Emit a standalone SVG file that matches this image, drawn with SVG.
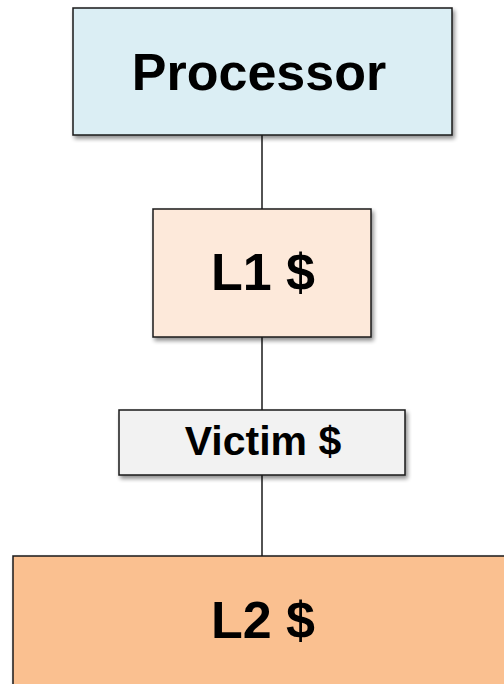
<svg xmlns="http://www.w3.org/2000/svg" width="504" height="684" viewBox="0 0 504 684">
<defs>
<filter id="sh" x="-10%" y="-10%" width="130%" height="130%">
<feGaussianBlur in="SourceAlpha" stdDeviation="2"/>
<feOffset dx="2" dy="3" result="b"/>
<feComponentTransfer><feFuncA type="linear" slope="0.45"/></feComponentTransfer>
<feMerge><feMergeNode/><feMergeNode in="SourceGraphic"/></feMerge>
</filter>
</defs>
<style>
.box{stroke:#1a1a1a;stroke-width:1.5;filter:url(#sh)}
.lbl{font-family:"Liberation Sans",Arial,sans-serif;font-weight:bold;fill:#000;text-anchor:middle}
.conn{stroke:#1a1a1a;stroke-width:1.5;fill:none}
</style>
<rect width="504" height="684" fill="#fff"/>
<g id="connectors">
<line class="conn" x1="262" y1="135" x2="262" y2="209"/>
<line class="conn" x1="262" y1="337" x2="262" y2="410"/>
<line class="conn" x1="262" y1="475" x2="262" y2="556"/>
</g>
<g id="processor">
<rect class="box" x="73" y="8" width="379" height="127" fill="#DBEEF4"/>
<text class="lbl" x="259" y="90" font-size="52">Processor</text>
</g>
<g id="l1">
<rect class="box" x="153" y="209" width="218" height="128" fill="#FDE9DA"/>
<text class="lbl" x="263" y="290" font-size="52">L1 $</text>
</g>
<g id="victim">
<rect class="box" x="119" y="410" width="286" height="65" fill="#F2F2F2"/>
<text class="lbl" x="263" y="455" font-size="41">Victim $</text>
</g>
<g id="l2">
<rect class="box" x="13" y="556" width="500" height="140" fill="#FAC090"/>
<text class="lbl" x="263" y="638" font-size="52">L2 $</text>
</g>
</svg>
